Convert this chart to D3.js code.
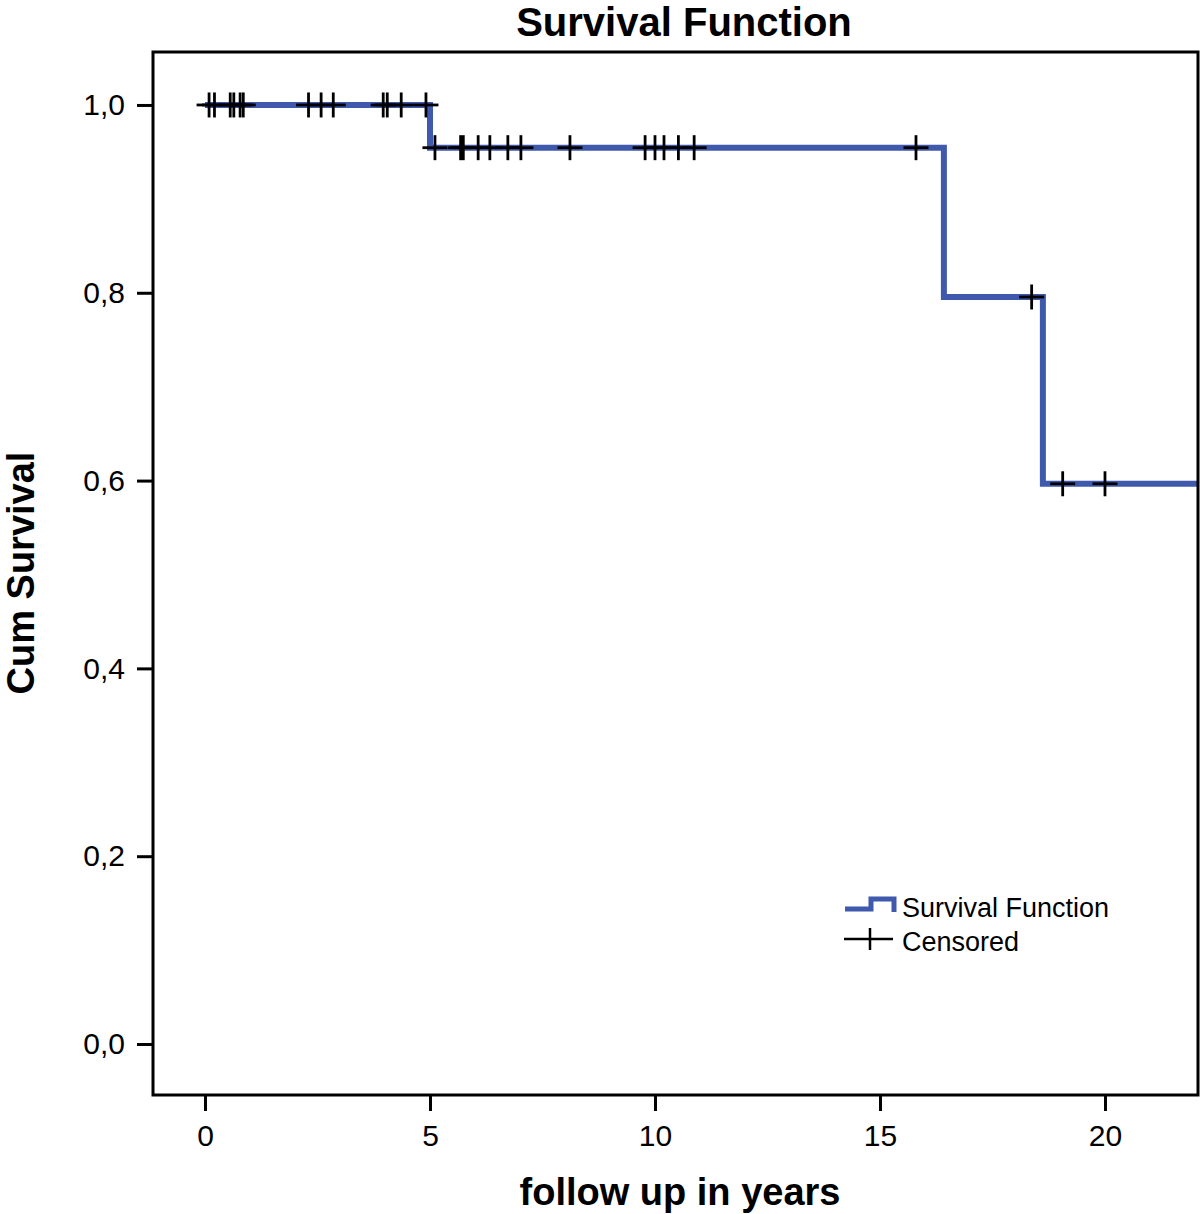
<!DOCTYPE html>
<html><head><meta charset="utf-8">
<script src="https://cdn.jsdelivr.net/npm/d3@7"></script>
<style>body{margin:0;background:#fff}svg{display:block}text{font-family:"Liberation Sans",Arial,Helvetica,sans-serif}</style>
</head><body>
<script>
// Data
const eventTimes = [5.0, 16.42, 18.62];
const survivalLevels = [1.0, 0.9545, 0.7955, 0.5966];
const censoredTimes = [0.09, 0.21, 0.56, 0.64, 0.78, 0.85, 2.30, 2.58, 2.85, 3.96, 4.05, 4.36, 4.91,
  5.11, 5.68, 5.74, 6.07, 6.33, 6.73, 7.02, 8.11, 9.78, 10.0, 10.2, 10.52, 10.87, 15.8,
  18.37, 19.06, 20.0];
const xTicks = [0, 5, 10, 15, 20];
const yTicks = [0, 0.2, 0.4, 0.6, 0.8, 1.0];
const endTime = 22.1;

const W = 1200, H = 1214;
const L = 153, T = 52, R = 1198, B = 1095;
const svg = d3.select("body").append("svg").attr("width", W).attr("height", H);

const x = d3.scaleLinear().domain([-1.156, 22.067]).range([L, R]);
const y = d3.scaleLinear().domain([-0.0543, 1.0564]).range([B, T]);

function survAt(t) {
  let k = 0;
  for (const e of eventTimes) if (t >= e) k++;
  return survivalLevels[k];
}

svg.append("defs").append("clipPath").attr("id", "clip")
  .append("rect").attr("x", L).attr("y", T).attr("width", R - L).attr("height", B - T);

// step line
const pts = [[0, survivalLevels[0]]];
eventTimes.forEach((e, i) => { pts.push([e, survivalLevels[i]]); pts.push([e, survivalLevels[i + 1]]); });
pts.push([endTime, survivalLevels[survivalLevels.length - 1]]);
const line = d3.line().x(d => x(d[0])).y(d => y(d[1]));

const g = svg.append("g").attr("clip-path", "url(#clip)");
g.append("path").attr("d", line(pts)).attr("fill", "none")
  .attr("stroke", "#3f59ad").attr("stroke-width", 6).attr("stroke-linejoin", "miter");

// censored crosses
const cs = 12.5;
censoredTimes.forEach(t => {
  const cx = x(t), cy = y(survAt(t));
  g.append("line").attr("x1", cx - cs).attr("x2", cx + cs).attr("y1", cy).attr("y2", cy)
    .attr("stroke", "#000").attr("stroke-width", 2.8);
  g.append("line").attr("x1", cx).attr("x2", cx).attr("y1", cy - cs).attr("y2", cy + cs)
    .attr("stroke", "#000").attr("stroke-width", 2.8);
});

// frame
svg.append("rect").attr("x", L).attr("y", T).attr("width", R - L).attr("height", B - T)
  .attr("fill", "none").attr("stroke", "#000").attr("stroke-width", 3);

// axes
const yAxis = d3.axisLeft(y).tickValues(yTicks).tickSize(16).tickPadding(12)
  .tickFormat(d => d3.format(".1f")(d).replace(".", ","));
const ya = svg.append("g").attr("transform", `translate(${L},0)`).call(yAxis);
ya.select(".domain").remove();
ya.selectAll(".tick line").attr("stroke", "#000").attr("stroke-width", 3);
ya.selectAll(".tick text").attr("font-size", 30).attr("fill", "#000")
  .attr("font-family", "Liberation Sans, Arial, sans-serif");

const xAxis = d3.axisBottom(x).tickValues(xTicks).tickSize(16).tickPadding(14);
const xa = svg.append("g").attr("transform", `translate(0,${B})`).call(xAxis);
xa.select(".domain").remove();
xa.selectAll(".tick line").attr("stroke", "#000").attr("stroke-width", 3);
xa.selectAll(".tick text").attr("font-size", 30).attr("fill", "#000")
  .attr("font-family", "Liberation Sans, Arial, sans-serif");

// titles
svg.append("text").attr("x", 684).attr("y", 36).attr("text-anchor", "middle")
  .attr("font-size", 40).attr("font-weight", "bold").text("Survival Function");
svg.append("text").attr("x", 680).attr("y", 1205).attr("text-anchor", "middle")
  .attr("font-size", 38).attr("font-weight", "bold").text("follow up in years");
svg.append("text").attr("transform", "translate(34,573) rotate(-90)").attr("text-anchor", "middle")
  .attr("font-size", 38).attr("font-weight", "bold").text("Cum Survival");

// legend
const lg = svg.append("g");
lg.append("path").attr("d", "M845,909 H871 V899 H894 V912").attr("fill", "none")
  .attr("stroke", "#3f59ad").attr("stroke-width", 5);
lg.append("text").attr("x", 902).attr("y", 917).attr("font-size", 27).text("Survival Function");
lg.append("line").attr("x1", 844).attr("x2", 893).attr("y1", 939).attr("y2", 939)
  .attr("stroke", "#000").attr("stroke-width", 2.5);
lg.append("line").attr("x1", 870).attr("x2", 870).attr("y1", 928).attr("y2", 950)
  .attr("stroke", "#000").attr("stroke-width", 2.5);
lg.append("text").attr("x", 902).attr("y", 951).attr("font-size", 27).text("Censored");
</script>
</body></html>
